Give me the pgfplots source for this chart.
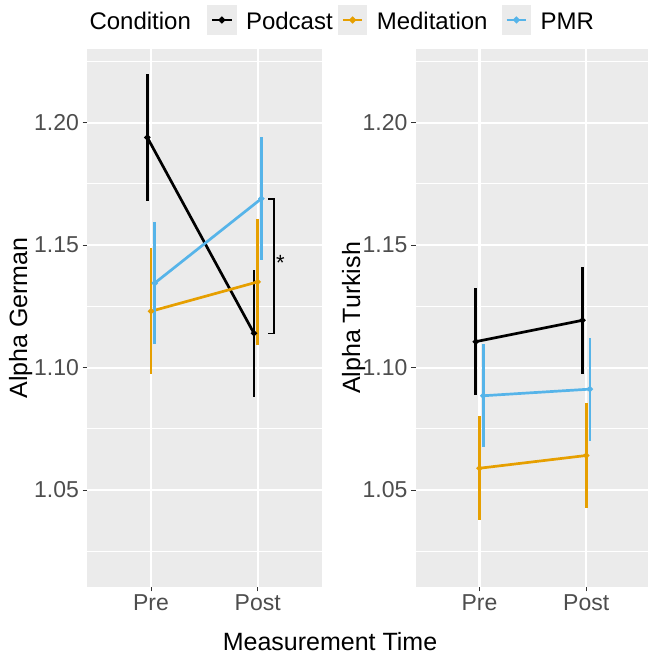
\documentclass[border=0pt]{standalone}
\usepackage{pgfplots}
\pgfplotsset{compat=1.18}
\usepackage{fontspec}
\setmainfont{Liberation Sans}

\definecolor{podcast}{HTML}{000000}
\definecolor{medit}{HTML}{E69F00}
\definecolor{pmr}{HTML}{56B4E9}
\definecolor{panelbg}{HTML}{EBEBEB}
\definecolor{ticktext}{HTML}{4D4D4D}
\definecolor{tickcol}{HTML}{333333}
\newcommand{\tickfont}{\fontsize{23}{27}\selectfont}
\newcommand{\titlefont}{\fontsize{25}{30}\selectfont}
\newcommand{\legfont}{\fontsize{24}{28}\selectfont}

\pgfplotsset{
  gg/.style={
    scale only axis, width=234.7pt, height=538pt,
    xmin=0.4, xmax=2.6, ymin=1.0104, ymax=1.2301,
    xtick={1,2}, xticklabels={Pre,Post},
    ytick={1.05,1.10,1.15,1.20},
    minor ytick={1.025,1.075,1.125,1.175,1.225},
    y tick label style={/pgf/number format/.cd, fixed, fixed zerofill, precision=2},
    /pgf/number format/assume math mode=true,
    grid=both,
    major grid style={white, line width=2.1pt},
    minor grid style={white, line width=1.05pt},
    axis background/.style={fill=panelbg},
    axis line style={draw=none},
    tick align=outside, tick pos=left,
    major tick length=4.5pt, minor tick length=0pt,
    tick style={tickcol, line width=1pt},
    ticklabel style={font=\tickfont, text=ticktext},
    clip=false,
  },
  ser/.style={#1, line width=2.7pt, mark=*, mark size=1.5pt,
    mark options={solid, fill=#1},
    error bars/.cd, y dir=both, y explicit, error mark=none,
    error bar style={#1, line width=2.8pt}},
}

\begin{document}
\begin{tikzpicture}
\useasboundingbox (0,0) rectangle (647pt,655pt);

% German
\begin{axis}[gg, at={(87pt,68pt)}, anchor=south west,
    legend columns=3,
    legend style={at={(axis description cs:0.5113,1.0539)}, anchor=west,
      draw=none, fill=none, inner sep=0pt, font=\legfont,
      cells={anchor=base west}, nodes={inner sep=0pt, text depth=0pt},
      /tikz/every odd column/.append style={column sep=9.5pt},
      /tikz/every even column/.append style={column sep=0pt}},
    legend image code/.code={
      \fill[panelbg] (0pt,-4pt) rectangle (26.6pt,22.6pt);
      \draw[#1, line width=2pt, mark=none] (3.5pt,9.3pt) -- (23.1pt,9.3pt);
      \fill[#1] (13.3pt,9.3pt) circle (1.8pt);
    },
  ]
\addplot[ser=podcast] coordinates {(0.965,1.194) +- (0,0.026) (1.965,1.114) +- (0,0.026)};
\addlegendentry{\makebox[92pt][l]{Podcast}}
\addplot[ser=medit] coordinates {(1.0,1.123) +- (0,0.0257) (2.0,1.135) +- (0,0.0257)};
\addlegendentry{\makebox[125pt][l]{Meditation}}
\addplot[ser=pmr] coordinates {(1.035,1.1345) +- (0,0.025) (2.035,1.169) +- (0,0.025)};
\addlegendentry{PMR}
\addplot[black, line width=1.6pt, mark=none, forget plot] coordinates {
  (2.098,1.1689) (2.154,1.1689) (2.154,1.114) (2.098,1.114)};
\node[anchor=base, inner sep=0pt, font=\fontsize{22}{26}\selectfont] at (axis cs:2.213,1.1395) {*};
\end{axis}

% Turkish
\begin{axis}[gg, at={(415.5pt,68pt)}, anchor=south west]
\addplot[ser=podcast] coordinates {(0.965,1.1106) +- (0,0.0219) (1.965,1.1193) +- (0,0.0219)};
\addplot[ser=medit] coordinates {(1.0,1.0589) +- (0,0.0213) (2.0,1.0641) +- (0,0.0213)};
\addplot[ser=pmr] coordinates {(1.035,1.0885) +- (0,0.021) (2.035,1.0912) +- (0,0.021)};
\end{axis}

\node[anchor=base west, inner sep=0pt, font=\legfont] at (89.3pt,625.7pt) {Condition};
\node[anchor=base, inner sep=0pt, font=\titlefont] at (330pt,5pt) {Measurement Time};
\node[rotate=90, anchor=base, inner sep=0pt, font=\titlefont] at (27pt,337pt) {Alpha German};
\node[rotate=90, anchor=base, inner sep=0pt, font=\titlefont] at (360pt,337pt) {Alpha Turkish};
\end{tikzpicture}
\end{document}
